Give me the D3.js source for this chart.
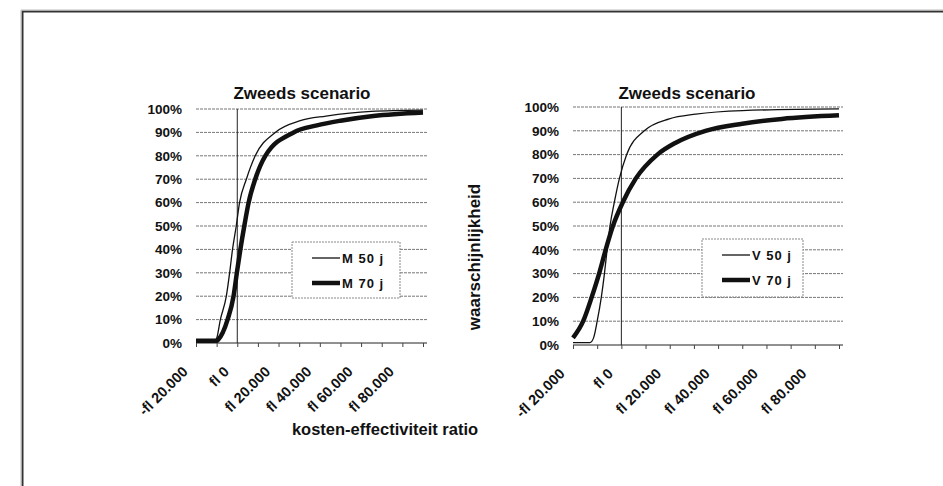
<!DOCTYPE html>
<html>
<head>
<meta charset="utf-8">
<script src="https://cdn.jsdelivr.net/npm/d3@7"></script>
<style>
  body { margin: 0; background: #fff; }
  svg { display: block; }
  text { font-family: "Liberation Sans", Arial, sans-serif; fill: #111; }
</style>
</head>
<body>
<svg id="chart" width="943" height="486"></svg>
<script>
// x-axis ticks (fl), labelled every other tick
const xTicks = [-20000, -10000, 0, 10000, 20000, 30000, 40000, 50000, 60000, 70000, 80000, 90000];
const xLabelTicks = [-20000, 0, 20000, 40000, 60000, 80000];
const yTicks = [0, 0.1, 0.2, 0.3, 0.4, 0.5, 0.6, 0.7, 0.8, 0.9, 1.0];

// Left panel: mannen
const m50x = [-20000, -11000, -10000, -8200, -5300, -3700, -2300, -500, 1100, 4400, 8700, 18400, 30500, 43000, 65000, 90000];
const m50p = [0.01, 0.01, 0.02, 0.10, 0.20, 0.30, 0.40, 0.50, 0.60, 0.70, 0.80, 0.90, 0.95, 0.97, 0.99, 0.995];
const m70x = [-20000, -10000, -9200, -4700, -1800, -200, 1500, 3400, 5500, 8700, 13600, 27300, 38600, 50000, 66000, 90000];
const m70p = [0.01, 0.01, 0.015, 0.10, 0.20, 0.30, 0.40, 0.50, 0.60, 0.70, 0.80, 0.90, 0.93, 0.95, 0.97, 0.985];

// Right panel: vrouwen
const v50x = [-20000, -13000, -11500, -10000, -8300, -7000, -5900, -4700, -2900, -800, 2200, 9500, 19800, 30800, 50000, 90000];
const v50p = [0.01, 0.01, 0.03, 0.10, 0.20, 0.30, 0.40, 0.50, 0.60, 0.70, 0.80, 0.90, 0.95, 0.97, 0.985, 0.992];
const v70x = [-20000, -15800, -12300, -9200, -6500, -3500, 600, 6000, 14900, 22500, 34800, 50000, 66400, 90000];
const v70p = [0.03, 0.10, 0.20, 0.30, 0.40, 0.50, 0.60, 0.70, 0.80, 0.85, 0.90, 0.93, 0.95, 0.965];

const panels = [
  { title: "Zweeds scenario", titleX: 302, x0: 196, x1: 423, y0: 343, y1: 109, legendX: 292, legendY: 242, legendW: 108, legendH: 56,
    series: [{ name: "M 50 j", xs: m50x, ps: m50p, w: 1.3 }, { name: "M 70 j", xs: m70x, ps: m70p, w: 4.5 }] },
  { title: "Zweeds scenario", titleX: 687, x0: 573, x1: 839, y0: 345, y1: 107, legendX: 702, legendY: 239, legendW: 101, legendH: 58,
    series: [{ name: "V 50 j", xs: v50x, ps: v50p, w: 1.3 }, { name: "V 70 j", xs: v70x, ps: v70p, w: 4.5 }] }
];

const svg = d3.select("#chart");

// outer frame (left and top edges only)
svg.append("path").attr("d", "M22.5,486 V11.5 H943").attr("fill", "none").attr("stroke", "#333").attr("stroke-width", 2);
svg.append("path").attr("d", "M21,486 V10 H943").attr("fill", "none").attr("stroke", "#bbb").attr("stroke-width", 1);

const flFmt = v => (v < 0 ? "-fl " : "fl ") + (v === 0 ? "0" : d3.format(",")(Math.abs(v)).replace(/,/g, "."));

panels.forEach(p => {
  const x = d3.scaleLinear().domain([-20000, 90000]).range([p.x0, p.x1]);
  const y = d3.scaleLinear().domain([0, 1]).range([p.y0, p.y1]);
  const g = svg.append("g");

  // gridlines
  g.append("g").selectAll("line").data(yTicks.filter(t => t > 0)).join("line")
    .attr("x1", p.x0).attr("x2", p.x1 + 4)
    .attr("y1", d => y(d)).attr("y2", d => y(d))
    .attr("stroke", "#777").attr("stroke-width", 1).attr("stroke-dasharray", "3,1");

  // x axis
  const xAxis = g.append("g").attr("transform", `translate(0,${p.y0})`)
    .call(d3.axisBottom(x).tickValues(xTicks).tickSize(4).tickFormat(""));
  xAxis.select(".domain").attr("d", `M${p.x0},0H${p.x1 + 4}`).attr("stroke", "#222");
  xAxis.selectAll(".tick line").attr("stroke", "#444");

  // rotated tick labels
  g.append("g").selectAll("text").data(xLabelTicks).join("text")
    .attr("transform", d => `translate(${x(d) - 11},${p.y0 + 26}) rotate(-45)`)
    .attr("text-anchor", "end")
    .attr("dy", "0.35em")
    .attr("font-size", 14.5).attr("font-weight", "bold")
    .text(flFmt);

  // y labels
  g.append("g").selectAll("text").data(yTicks).join("text")
    .attr("x", p.x0 - 14).attr("y", d => y(d)).attr("dy", "0.35em")
    .attr("text-anchor", "end").attr("font-size", 13.5).attr("font-weight", "bold")
    .text(d => d3.format(".0%")(d));

  // vertical axis at fl 0
  g.append("line").attr("x1", x(0)).attr("x2", x(0)).attr("y1", p.y0).attr("y2", p.y1)
    .attr("stroke", "#222").attr("stroke-width", 1);

  // curves
  const line = d3.line().x(d => x(d[0])).y(d => y(d[1])).curve(d3.curveMonotoneX);
  p.series.forEach(s => {
    g.append("path").datum(s.xs.map((v, i) => [v, s.ps[i]]))
      .attr("d", line).attr("fill", "none").attr("stroke", "#111")
      .attr("stroke-width", s.w).attr("stroke-linejoin", "round");
  });

  // title
  g.append("text").attr("x", p.titleX).attr("y", 99)
    .attr("text-anchor", "middle").attr("font-size", 17).attr("font-weight", "bold")
    .text(p.title);

  // legend
  const lg = g.append("g").attr("transform", `translate(${p.legendX},${p.legendY})`);
  lg.append("rect").attr("width", p.legendW).attr("height", p.legendH)
    .attr("fill", "#fff").attr("stroke", "#888").attr("stroke-dasharray", "2,1");
  p.series.forEach((s, i) => {
    const cy = 16 + i * 25;
    lg.append("line").attr("x1", 20).attr("x2", 48).attr("y1", cy).attr("y2", cy)
      .attr("stroke", "#111").attr("stroke-width", s.w);
    lg.append("text").attr("x", 50).attr("y", cy).attr("dy", "0.35em")
      .attr("font-size", 13).attr("font-weight", "bold").attr("letter-spacing", 1)
      .text(s.name);
  });
});

// axis titles
svg.append("text").attr("transform", "translate(474,257) rotate(-90)")
  .attr("text-anchor", "middle").attr("dy", "0.35em")
  .attr("font-size", 17).attr("font-weight", "bold")
  .text("waarschijnlijkheid");

svg.append("text").attr("x", 385).attr("y", 435)
  .attr("text-anchor", "middle")
  .attr("font-size", 16.5).attr("font-weight", "bold")
  .text("kosten-effectiviteit ratio");
</script>
</body>
</html>
